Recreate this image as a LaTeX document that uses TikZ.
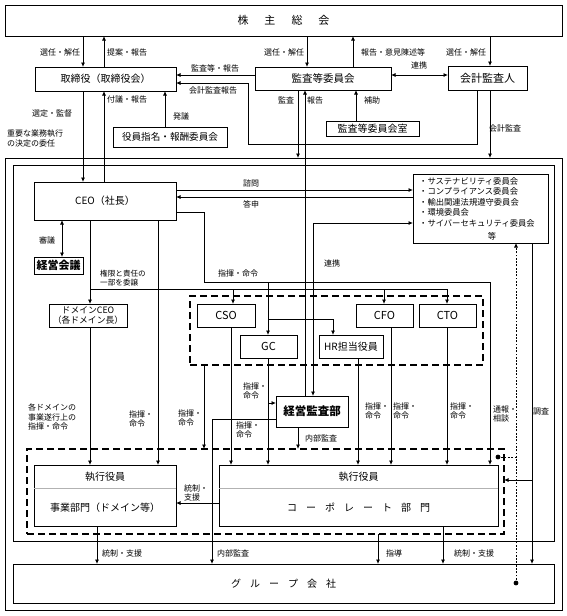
\documentclass[tikz,border=0pt]{standalone}
\usepackage{fontspec}
\setmainfont{Noto Sans CJK JP}
\usetikzlibrary{arrows.meta,calc}
\begin{document}
\begin{tikzpicture}[x=1pt,y=-1pt,
 box/.style={draw, line width=0.9pt, inner sep=0pt, outer sep=0pt, anchor=north west, fill=white, font=\fontsize{10}{12}\selectfont},
 lbl/.style={inner sep=0pt, font=\fontsize{8}{9.5}\selectfont, align=center},
 lbll/.style={inner sep=0pt, font=\fontsize{8}{9.5}\selectfont, align=left, anchor=west},
 ln/.style={line width=0.8pt},
 arr/.style={ln, -{Latex[length=4.5pt,width=4pt]}},
 darr/.style={ln, {Latex[length=4.5pt,width=4pt]}-{Latex[length=4.5pt,width=4pt]}},
 dframe/.style={line width=1.8pt, dash pattern=on 7pt off 4pt},
 dotline/.style={line width=0.7pt, dash pattern=on 1.8pt off 1.5pt},
]
\useasboundingbox (0,0) rectangle (567,616);
% frames
\node[box, fill=none, line width=1pt, minimum width=557pt, minimum height=452pt] (outer) at (5,158) {};
\node[box, fill=none, line width=1pt, minimum width=541pt, minimum height=376pt] (inner) at (13,165) {};
\node[box, fill=none, dframe, minimum width=293pt, minimum height=69pt] (cxo) at (190,296) {};
\node[box, fill=none, dframe, minimum width=477pt, minimum height=85pt] (exec) at (27,449) {};
% boxes
\node[box, minimum width=557pt, minimum height=31pt, font=\fontsize{11}{13}\selectfont] (sh) at (5,5) {株\hspace{16pt}主\hspace{16pt}総\hspace{16pt}会};
\node[box, minimum width=141pt, minimum height=24pt] (tori) at (35,67) {取締役（取締役会）};
\node[box, minimum width=136pt, minimum height=23pt, font=\fontsize{10.5}{12}\selectfont] (kansa) at (255,67) {監査等委員会};
\node[box, minimum width=79pt, minimum height=24pt, font=\fontsize{11}{12}\selectfont] (kaikei) at (448,66) {会計監査人};
\node[box, minimum width=114pt, minimum height=20pt, font=\fontsize{9.6}{12}\selectfont] (yakuin) at (113,127) {役員指名・報酬委員会};
\node[box, minimum width=93pt, minimum height=15pt, font=\fontsize{10}{12}\selectfont] (shitsu) at (326,121) {監査等委員会室};
\node[box, minimum width=541pt, minimum height=39pt] (group) at (13,564) {グ\hspace{9pt}ル\hspace{9pt}ー\hspace{9pt}プ\hspace{9pt}会\hspace{9pt}社};
\node[box, minimum width=142pt, minimum height=38pt] (ceo) at (34,182) {CEO（社長）};
\node[box, minimum width=135pt, minimum height=69pt] (iinkai) at (413,174) {};
\node[anchor=north west, inner sep=0pt, font=\fontsize{8.3}{10.6}\selectfont, align=left] (iinkaitxt) at (419,177) {・サステナビリティ委員会\\・コンプライアンス委員会\\・輸出関連法規遵守委員会\\・環境委員会\\・サイバーセキュリティ委員会};
\node[inner sep=0pt, font=\fontsize{8.3}{10}\selectfont] (iinkaitou) at (492,236) {等};
\node[box, minimum width=49pt, minimum height=17pt, font=\fontsize{11}{12}\selectfont\bfseries] (keiei) at (34,257) {経営会議};
\node[box, minimum width=78pt, minimum height=23pt, align=center, font=\fontsize{8.8}{10}\selectfont] (domain) at (49,304) {ドメインCEO\\（各ドメイン長）};
\node[box, minimum width=58pt, minimum height=23pt, font=\fontsize{11}{12}\selectfont] (cso) at (197,304) {CSO};
\node[box, minimum width=57pt, minimum height=23pt, font=\fontsize{11}{12}\selectfont] (gc) at (240,335) {GC};
\node[box, minimum width=64pt, minimum height=23pt] (hr) at (319,335) {HR担当役員};
\node[box, minimum width=57pt, minimum height=23pt, font=\fontsize{11}{12}\selectfont] (cfo) at (356,304) {CFO};
\node[box, minimum width=57pt, minimum height=23pt, font=\fontsize{11}{12}\selectfont] (cto) at (419,304) {CTO};
\node[box, minimum width=72pt, minimum height=31pt, font=\fontsize{11.5}{12}\selectfont\bfseries] (kansabu) at (276,396) {経営監査部};
\node[box, minimum width=142pt, minimum height=61pt] (jigyo) at (34,465) {};
\node[box, minimum width=279pt, minimum height=61pt] (corp) at (219,465) {};
\draw[gray!60, line width=0.5pt] (jigyo.west |- 0,488) -- (jigyo.east |- 0,488);
\draw[gray!60, line width=0.5pt] (corp.west |- 0,488) -- (corp.east |- 0,488);
\node[inner sep=0pt, font=\fontsize{10}{12}\selectfont] (jigyoA) at (jigyo.north |- 0,477) {執行役員};
\node[inner sep=0pt, font=\fontsize{10}{12}\selectfont] (jigyoB) at (jigyo.north |- 0,508) {事業部門（ドメイン等）};
\node[inner sep=0pt, font=\fontsize{10}{12}\selectfont] (corpA) at (corp.north |- 0,477) {執行役員};
\node[inner sep=0pt, font=\fontsize{10}{12}\selectfont] (corpB) at (corp.north |- 0,508) {コ\hspace{9pt}ー\hspace{9pt}ポ\hspace{9pt}レ\hspace{9pt}ー\hspace{9pt}ト\hspace{9pt}部\hspace{9pt}門};
% connectors: top
\draw[arr] (83,0 |- sh.south) -- (83,0 |- tori.north);
\draw[arr] (104,0 |- tori.north) -- (104,0 |- sh.south);
\draw[arr] (307,0 |- sh.south) -- (307,0 |- kansa.north);
\draw[arr] (353,0 |- kansa.north) -- (353,0 |- sh.south);
\draw[arr] (490,0 |- sh.south) -- (490,0 |- kaikei.north);
\draw[darr] (kansa.east |- 0,75) -- (kaikei.west |- 0,75);
\draw[arr] (kansa.west |- 0,75) -- (tori.east |- 0,75);
\draw[arr] (477,0 |- kaikei.south) -- (477,144) -- (248,144) -- (248,83) -- (tori.east |- 0,83);
\draw[arr] (298,0 |- kansa.south) -- (298,0 |- outer.north);
\draw[arr] (305,0 |- kansabu.north) -- (305,0 |- kansa.south);
\draw[arr] (356,0 |- shitsu.north) -- (356,0 |- kansa.south);
\draw[arr] (490,0 |- kaikei.south) -- (490,0 |- outer.north);
\draw[arr] (165,0 |- yakuin.north) -- (165,0 |- tori.south);
\draw[arr] (104,0 |- ceo.north) -- (104,0 |- tori.south);
\draw[arr] (83,0 |- tori.south) -- (83,0 |- ceo.north);
% CEO
\draw[arr] (ceo.east |- 0,190) -- (iinkai.west |- 0,190);
\draw[arr] (iinkai.west |- 0,197) -- (ceo.east |- 0,197);
\draw[darr] (62,0 |- ceo.south) -- (62,0 |- keiei.north);
\draw[arr] (90,0 |- ceo.south) -- (90,0 |- domain.north);
\draw[ln] (90,289) -- (447,289);
\draw[arr] (233,289) -- (233,0 |- cso.north);
\draw[arr] (384,289) -- (384,0 |- cfo.north);
\draw[arr] (447,289) -- (447,0 |- cto.north);
\draw[arr] (ceo.east |- 0,212) -- (204,212) -- (204,282) -- (490,282) -- (490,0 |- corp.north);
\draw[arr] (268,282) -- (268,0 |- gc.north);
\draw[arr] (268,319) -- (333,319) -- (333,0 |- hr.north);
\draw[arr] (158,0 |- ceo.south) -- (158,0 |- jigyo.north);
\draw[arr] (90,0 |- domain.south) -- (90,0 |- jigyo.north);
\draw[arr] (204,0 |- cxo.south) -- (204,0 |- exec.north);
\draw[arr] (231,0 |- cso.south) -- (231,0 |- corp.north);
\draw[arr] (268,0 |- gc.south) -- (268,0 |- corp.north);
\draw[arr] (268,403) -- (kansabu.west |- 0,403);
\draw[arr] (358,0 |- hr.south) -- (358,0 |- corp.north);
\draw[arr] (391,0 |- cfo.south) -- (391,0 |- corp.north);
\draw[arr] (447,0 |- cto.south) -- (447,0 |- corp.north);
\draw[arr] (298,0 |- kansabu.south) -- (298,0 |- exec.north);
\draw[arr] (kansabu.west |- 0,419) -- (212,419) -- (212,0 |- group.north);
\draw[darr] (313,0 |- kansabu.north) -- (313,223) -- (iinkai.west |- 0,223);
\draw[arr] (corp.west |- 0,503) -- (jigyo.east |- 0,503);
\draw[arr] (97,0 |- jigyo.south) -- (97,0 |- group.north);
\draw[arr] (378,0 |- exec.south) -- (378,0 |- group.north);
\draw[arr] (443,0 |- corp.south) -- (443,0 |- group.north);
\draw[arr] (532,0 |- iinkai.south) -- (532,0 |- group.north);
\draw[arr] (532,480) -- (exec.east |- 0,480);
\coordinate (dotA) at (516,583);
\coordinate (dotB) at (498,457);
\draw[dotline, -{Latex[length=4.5pt,width=4pt]}] (dotA) -- (516,0 |- iinkai.south);
\draw[dotline] (dotB) -- (516,0 |- dotB);
\fill (dotA) circle (2.4pt);
\fill (dotB) circle (2.4pt);
% labels
\node[lbl] at (60,52) {選任・解任};
\node[lbl] at (127,52) {提案・報告};
\node[lbl] at (284,52) {選任・解任};
\node[lbl] at (393,52) {報告・意見陳述等};
\node[lbl] at (466,52) {選任・解任};
\node[lbl] at (419,65) {連携};
\node[lbl] at (215,68) {監査等・報告};
\node[lbl] at (213,90) {会計監査報告};
\node[lbl] at (286,100) {監査};
\node[lbl] at (315,100) {報告};
\node[lbl] at (372,100) {補助};
\node[lbl] at (505,128) {会計監査};
\node[lbl] at (181,116) {発議};
\node[lbl] at (127,99) {付議・報告};
\node[lbl] at (52,113) {選定・監督};
\node[lbl, align=left, anchor=north west] at (7,130) {重要な業務執行\\の決定の委任};
\node[lbl] at (251,183) {諮問};
\node[lbl] at (251,204) {答申};
\node[lbl] at (47,240) {審議};
\node[lbll, font=\fontsize{7.6}{9}\selectfont] at (100,278) {権限と責任の\\一部を委譲};
\node[lbl] at (238,273) {指揮・命令};
\node[lbl] at (332,263) {連携};
\node[lbl, align=left, anchor=north west] at (28,404) {各ドメインの\\事業遂行上の\\指揮・命令};
\node[lbll] at (129,419) {指揮・\\命令};
\node[lbll] at (178,418) {指揮・\\命令};
\node[lbll] at (243,391) {指揮・\\命令};
\node[lbll] at (236,430) {指揮・\\命令};
\node[lbll] at (365,411) {指揮・\\命令};
\node[lbll] at (393,411) {指揮・\\命令};
\node[lbll] at (450,411) {指揮・\\命令};
\node[lbll] at (493,414) {通報・\\相談};
\node[lbl] at (541,411) {調査};
\node[lbl] at (321,438) {内部監査};
\node[lbll] at (184,493) {統制・\\支援};
\node[lbl] at (122,553) {統制・支援};
\node[lbl] at (233,553) {内部監査};
\node[lbl] at (394,553) {指導};
\node[lbl] at (474,553) {統制・支援};
\end{tikzpicture}
\end{document}
